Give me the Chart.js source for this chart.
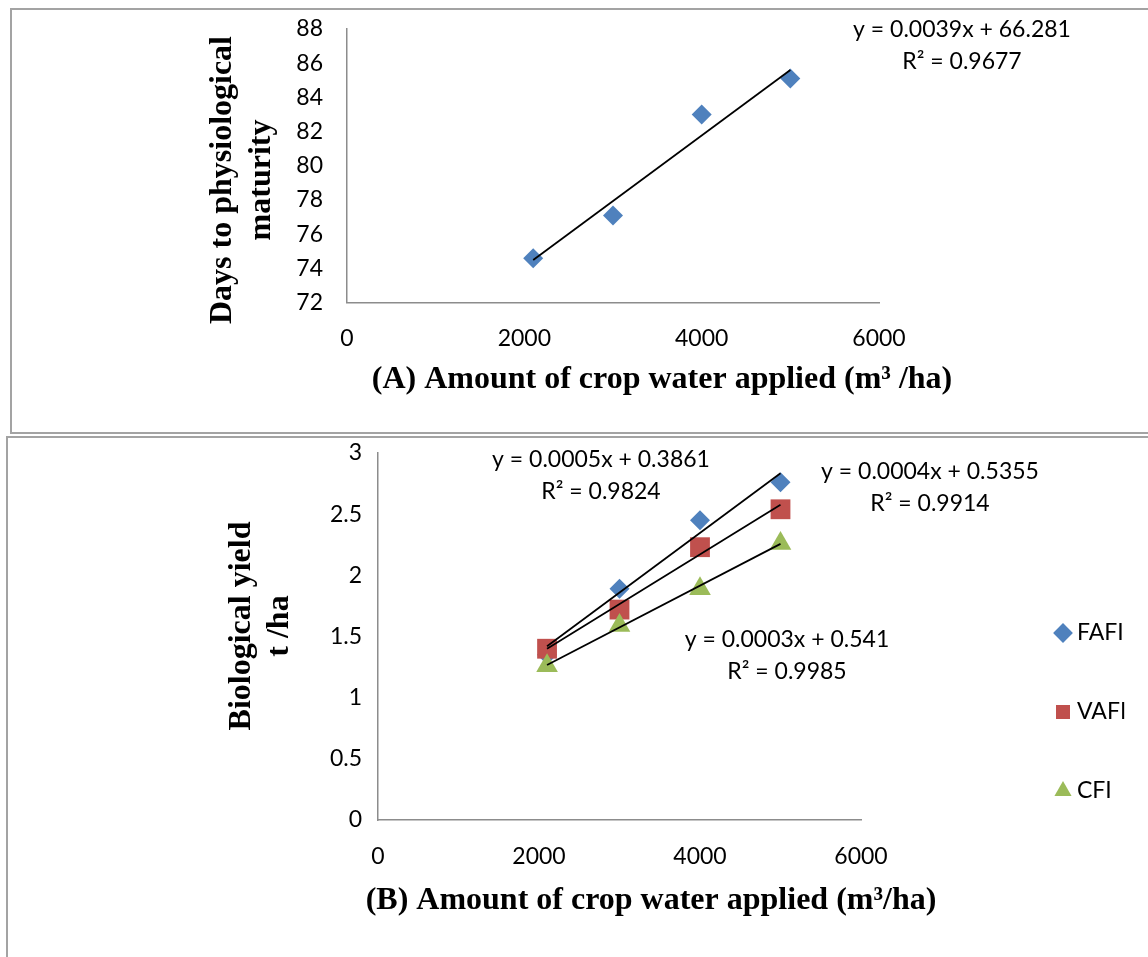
<!DOCTYPE html>
<html>
<head>
<meta charset="utf-8">
<title>Crop water applied</title>
<script src="https://cdn.jsdelivr.net/npm/chart.js@4.4.1/dist/chart.umd.min.js"></script>
<style>
  html, body { margin: 0; padding: 0; background: #fff; overflow: hidden; }
  .panel { position: absolute; border: 2px solid #a3a3a3; border-right: none; box-sizing: border-box; }
  #panelA { left: 10px; top: 8px; width: 1200px; height: 426px; }
  #panelB { left: 6px; top: 436px; width: 1200px; height: 600px; border-bottom: none; }
  canvas { position: absolute; left: 0; }
  #chartA { top: 0; }
  #chartB { top: 436px; }
</style>
</head>
<body>
<div class="panel" id="panelA"></div>
<div class="panel" id="panelB"></div>
<canvas id="chartA" width="1148" height="432"></canvas>
<canvas id="chartB" width="1148" height="535"></canvas>
<script>
// (A) days to physiological maturity
const waterA = [2100, 3000, 4000, 5000];
const daysA = [74.6, 77.1, 83.0, 85.1];
const trendXA = [2100, 5000];
const trendDaysA = [74.5, 85.6];
const daysRange = [72, 88];
const daysStep = 2;
const eqA = ["y = 0.0039x + 66.281", "R² = 0.9677"];

// (B) biological yield
const seriesNames = ["FAFI", "VAFI", "CFI"];
const seriesColors = ["#4F81BD", "#C0504D", "#9BBB59"];
const waterB = [2100, 3000, 4000, 5000];
const fafiYield = [1.35, 1.89, 2.45, 2.76];
const vafiYield = [1.40, 1.72, 2.23, 2.54];
const cfiYield = [1.26, 1.59, 1.89, 2.26];
const trendXB = [2100, 5000];
const fafiTrend = [1.42, 2.835];
const vafiTrend = [1.40, 2.576];
const cfiTrend = [1.267, 2.257];
const yieldRange = [0, 3];
const yieldStep = 0.5;
const eqFafi = ["y = 0.0005x + 0.3861", "R² = 0.9824"];
const eqVafi = ["y = 0.0004x + 0.5355", "R² = 0.9914"];
const eqCfi = ["y = 0.0003x + 0.541", "R² = 0.9985"];

const waterRange = [0, 6000];
const waterStep = 2000;

const pts = (xs, ys) => xs.map((x, i) => ({ x: x, y: ys[i] }));

const numFont = { family: "Lato", size: 23 };
const eqFont = "23px Lato";
const titleFont = "bold 32px 'Liberation Serif'";
const axisColor = "#8c8c8c";

// draws axis titles and trendline equations
const panelText = {
  id: "panelText",
  afterDraw(chart, args, opts) {
    const ctx = chart.ctx;
    opts.items.forEach(item => {
      ctx.save();
      ctx.font = item.font;
      ctx.fillStyle = "#000";
      ctx.textAlign = "center";
      ctx.textBaseline = "middle";
      ctx.translate(item.x, item.y);
      if (item.rotate) ctx.rotate(-Math.PI / 2);
      item.lines.forEach((line, i) => ctx.fillText(line, 0, i * item.lineHeight));
      ctx.restore();
    });
  }
};

function trendSet(xs, ys) {
  return {
    type: "line",
    label: "Linear",
    data: pts(xs, ys),
    showLine: true,
    borderColor: "#000",
    borderWidth: 1.75,
    pointRadius: 0,
    fill: false,
    order: 0
  };
}

function xScale(height, pad) {
  return {
    type: "linear",
    min: waterRange[0],
    max: waterRange[1],
    ticks: { stepSize: waterStep, padding: pad, color: "#000", font: numFont, callback: v => String(v) },
    grid: { display: false, drawTicks: false },
    border: { color: axisColor, width: 1.5 },
    afterFit(s) {
      s.height = height;
      s.paddingLeft = 0;
      s.paddingRight = 0;
    }
  };
}

function yScale(range, step, width, pad) {
  return {
    type: "linear",
    min: range[0],
    max: range[1],
    ticks: { stepSize: step, padding: pad, color: "#000", font: numFont, callback: v => String(v) },
    grid: { display: false, drawTicks: false },
    border: { color: axisColor, width: 1.5 },
    afterFit(s) {
      s.width = width;
      s.paddingTop = 0;
      s.paddingBottom = 0;
    }
  };
}

function build() {
  new Chart(document.getElementById("chartA"), {
    type: "scatter",
    data: {
      datasets: [
        {
          label: "Days",
          data: pts(waterA, daysA),
          pointStyle: "rectRot",
          pointRadius: 10,
          pointBorderWidth: 0,
          backgroundColor: seriesColors[0],
          borderColor: seriesColors[0],
          order: 1
        },
        trendSet(trendXA, trendDaysA)
      ]
    },
    options: {
      responsive: false,
      animation: false,
      events: [],
      layout: { padding: { top: 29, right: 269, bottom: 0, left: 0 } },
      scales: {
        x: xScale(129.3, 22),
        y: yScale(daysRange, daysStep, 347, 24)
      },
      plugins: {
        legend: { display: false },
        tooltip: { enabled: false },
        panelText: {
          items: [
            { lines: ["Days to physiological", "maturity"], x: 223, y: 180, lineHeight: 39, rotate: true, font: titleFont },
            { lines: ["(A) Amount of crop water applied (m³ /ha)"], x: 662, y: 380, lineHeight: 0, font: titleFont },
            { lines: eqA, x: 962, y: 30, lineHeight: 32, font: eqFont }
          ]
        }
      }
    },
    plugins: [panelText]
  });

  const yieldSets = [fafiYield, vafiYield, cfiYield];
  const markerStyles = ["rectRot", "rect", "triangle"];
  const markerRadius = [10, 14, 12.5];
  const datasets = yieldSets.map((vals, i) => ({
    label: seriesNames[i],
    data: pts(waterB, vals),
    pointStyle: markerStyles[i],
    pointRadius: markerRadius[i],
    pointBorderWidth: 0,
    backgroundColor: seriesColors[i],
    borderColor: seriesColors[i],
    order: 3 - i
  }));
  datasets.push(trendSet(trendXB, fafiTrend));
  datasets.push(trendSet(trendXB, vafiTrend));
  datasets.push(trendSet(trendXB, cfiTrend));

  new Chart(document.getElementById("chartB"), {
    type: "scatter",
    data: { datasets: datasets },
    options: {
      responsive: false,
      animation: false,
      events: [],
      layout: { padding: { top: 17, right: 23.5, bottom: 0, left: 0 } },
      scales: {
        x: xScale(151, 23),
        y: yScale(yieldRange, yieldStep, 378, 16),
        gap: {
          type: "linear",
          axis: "y",
          position: "right",
          display: true,
          grid: { display: false, drawTicks: false },
          border: { display: false },
          ticks: { display: false },
          afterFit(s) {
            s.width = 143.5;
            s.paddingTop = 0;
            s.paddingBottom = 0;
          }
        }
      },
      plugins: {
        tooltip: { enabled: false },
        legend: {
          position: "right",
          align: "center",
          maxWidth: 120,
          labels: {
            usePointStyle: true,
            boxWidth: 5,
            boxHeight: 14,
            padding: 56,
            color: "#000",
            font: numFont,
            filter: item => item.text !== "Linear",
            sort: (a, b) => a.datasetIndex - b.datasetIndex
          }
        },
        panelText: {
          items: [
            { lines: ["Biological yield", "t /ha"], x: 242, y: 190, lineHeight: 38, rotate: true, font: titleFont },
            { lines: ["(B) Amount of crop water applied (m³/ha)"], x: 651, y: 465, lineHeight: 0, font: titleFont },
            { lines: eqFafi, x: 601, y: 24, lineHeight: 32, font: eqFont },
            { lines: eqVafi, x: 930, y: 36, lineHeight: 32, font: eqFont },
            { lines: eqCfi, x: 787, y: 204, lineHeight: 32, font: eqFont }
          ]
        }
      }
    },
    plugins: [panelText]
  });
}

Promise.all([
  document.fonts.load("23px Lato"),
  document.fonts.load("bold 32px 'Liberation Serif'")
]).then(build, build);
</script>
</body>
</html>
